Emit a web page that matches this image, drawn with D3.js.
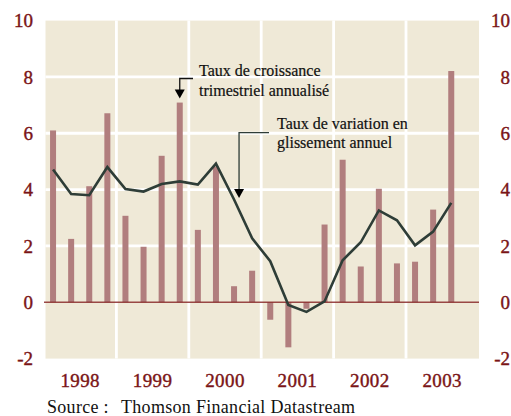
<!DOCTYPE html>
<html lang="fr">
<head>
    <meta charset="utf-8">
    <script src="https://d3js.org/d3.v7.min.js"></script>
    <style>
      body { margin: 0; background: #fff; }
    </style>
</head>
<body>
<script>

// data: quarters 1998T1 .. 2003T4 (last quarter not published yet)
const years = ['1998', '1999', '2000', '2001', '2002', '2003']
const quarters = years.flatMap(y => ['T1', 'T2', 'T3', 'T4'].map(q => y + q))

// taux de croissance trimestriel annualisé (bars)
const growth = [6.1, 2.25, 4.12, 6.71, 3.07, 1.97, 5.2, 7.09, 2.57, 4.82, 0.57, 1.12,
                -0.62, -1.6, -0.23, 2.76, 5.06, 1.27, 4.03, 1.38, 1.44, 3.29, 8.21]
// taux de variation en glissement annuel (line)
const yoy = [4.71, 3.84, 3.8, 4.8, 4.02, 3.93, 4.2, 4.29, 4.18, 4.92, 3.65, 2.27,
             1.46, -0.1, -0.34, 0.03, 1.49, 2.13, 3.26, 2.91, 2.02, 2.51, 3.53]

const yTicks = [-2, 0, 2, 4, 6, 8, 10]
const gridTicks = [2, 4, 6, 8]

const width = 511,
      height = 416,
      red = '#7a1416',
      serif = '"Liberation Serif", "Times New Roman", serif'

const svg = d3.select('body')
  .append('svg')
  .attr('width', width)
  .attr('height', height)

const x = d3.scaleBand().domain(quarters).range([44, 478.4]),
      xYear = d3.scaleBand().domain(years).range([44, 478.4]),
      y = d3.scaleLinear().domain([-2, 10]).range([358.6, 20.6])

// background panel
svg.append('rect')
  .attr('x', 45.5)
  .attr('y', y(10))
  .attr('width', 479 - 45.5)
  .attr('height', y(-2) - y(10))
  .attr('fill', '#efe9d7')

// white grid
svg.selectAll('.hgrid')
  .data(gridTicks)
  .enter()
  .append('line')
  .attr('x1', 45.5).attr('x2', 479)
  .attr('y1', d => y(d)).attr('y2', d => y(d))
  .attr('stroke', '#fff')
  .attr('stroke-width', 2.8)

svg.selectAll('.vgrid')
  .data(years.slice(1))
  .enter()
  .append('line')
  .attr('x1', d => xYear(d)).attr('x2', d => xYear(d))
  .attr('y1', y(10)).attr('y2', y(-2))
  .attr('stroke', '#fff')
  .attr('stroke-width', 2.8)

// bars
svg.selectAll('.bar')
  .data(growth)
  .enter()
  .append('rect')
  .attr('x', (d, i) => x(quarters[i]) + x.bandwidth() / 2 - 3)
  .attr('y', d => y(Math.max(0, d)))
  .attr('width', 6)
  .attr('height', d => Math.abs(y(d) - y(0)))
  .attr('fill', '#b17e7e')

// zero line
svg.append('line')
  .attr('x1', 44).attr('x2', 479)
  .attr('y1', y(0)).attr('y2', y(0))
  .attr('stroke', '#8a2a2a')
  .attr('stroke-opacity', 0.85)
  .attr('stroke-width', 1.5)

// yoy line
const line = d3.line()
  .x((d, i) => x(quarters[i]) + x.bandwidth() / 2)
  .y(d => y(d))

svg.append('path')
  .datum(yoy)
  .attr('fill', 'none')
  .attr('stroke', '#2e3d37')
  .attr('stroke-width', 2.6)
  .attr('stroke-linejoin', 'miter')
  .attr('d', line)

// y labels both sides
svg.selectAll('.ylab')
  .data(yTicks.flatMap(d => [{v: d, x: 33}, {v: d, x: 510}]))
  .enter()
  .append('text')
  .attr('x', d => d.x)
  .attr('y', d => y(d.v))
  .attr('dy', '0.36em')
  .attr('text-anchor', 'end')
  .attr('font-family', serif)
  .attr('font-size', 19)
  .attr('fill', red)
  .attr('stroke', red)
  .attr('stroke-width', 0.4)
  .text(d => d.v)

// year labels
svg.selectAll('.year')
  .data(years)
  .enter()
  .append('text')
  .attr('x', d => xYear(d) + xYear.bandwidth() / 2)
  .attr('y', 387)
  .attr('text-anchor', 'middle')
  .attr('font-family', serif)
  .attr('font-size', 19)
  .attr('fill', red)
  .attr('stroke', red)
  .attr('stroke-width', 0.4)
  .attr('letter-spacing', 0.4)
  .text(d => d)

// annotations
function note(lines, tx, ty, lh, fromX, fromY, tipX, tipY, col) {
  var t = svg.append('text')
    .attr('font-family', serif)
    .attr('font-size', 16)
    .attr('fill', '#111')
    .attr('stroke', '#111')
    .attr('stroke-width', 0.2)
  lines.forEach(function(s, i) {
    t.append('tspan').attr('x', tx).attr('y', ty + i * lh).text(s)
  })
  svg.append('path')
    .attr('d', 'M' + fromX + ',' + fromY + 'H' + tipX + 'V' + (tipY - 8))
    .attr('fill', 'none')
    .attr('stroke', col)
    .attr('stroke-width', 1.3)
  svg.append('path')
    .attr('d', 'M' + (tipX - 5) + ',' + (tipY - 9) + 'L' + (tipX + 5) + ',' + (tipY - 9) + 'L' + tipX + ',' + tipY + 'Z')
    .attr('fill', '#000')
}

var q8 = x('1999T4') + x.bandwidth() / 2
note(['Taux de croissance', 'trimestriel annualisé'], 199, 76, 20,
     193, 78.5, q8, y(growth[7]) - 4, '#111')

var q11 = x('2000T3') + x.bandwidth() / 2 + 5
note(['Taux de variation en', 'glissement annuel'], 277, 129, 18.5,
     269, 132.7, q11, 198, '#2e3d37')

// source
svg.append('text')
  .attr('x', 47).attr('y', 413)
  .attr('font-family', serif).attr('font-size', 18)
  .attr('letter-spacing', 0.3)
  .attr('fill', '#111')
  .text('Source :')
svg.append('text')
  .attr('x', 121).attr('y', 413)
  .attr('font-family', serif).attr('font-size', 18)
  .attr('letter-spacing', 0.3)
  .attr('fill', '#111')
  .text('Thomson Financial Datastream')

</script>
</body>
</html>
